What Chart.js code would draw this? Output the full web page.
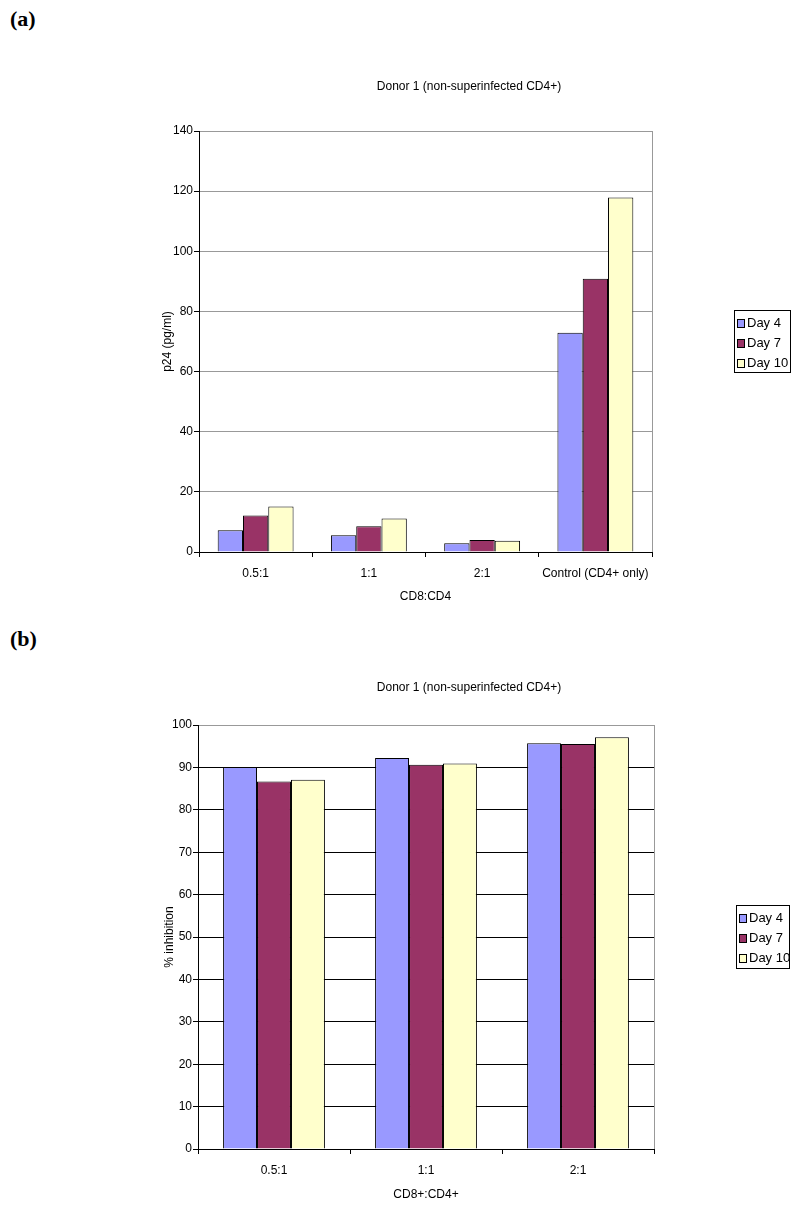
<!DOCTYPE html>
<html>
<head>
<meta charset="utf-8">
<script src="https://cdn.jsdelivr.net/npm/chart.js@4.4.0/dist/chart.umd.min.js"></script>
<style>
  body { margin: 0; background: #fff; width: 800px; height: 1207px; position: relative; overflow: hidden; }
  .panel { position: absolute; left: 10px; font: bold 22px "Liberation Serif", "Times New Roman", serif; }
  canvas { position: absolute; left: 0; }
</style>
</head>
<body>
<div class="panel" style="top:6px">(a)</div>
<div class="panel" style="top:626px">(b)</div>
<canvas id="chartA" width="800" height="610" style="top:0"></canvas>
<canvas id="chartB" width="800" height="597" style="top:610px"></canvas>
<script>
// series names and colours
var seriesNames = ['Day 4', 'Day 7', 'Day 10'];
var seriesColors = ['#9999ff', '#993366', '#ffffcc'];

// panel (a): p24 levels
var categoriesA = ['0.5:1', '1:1', '2:1', 'Control (CD4+ only)'];
var day4A = [7.2, 5.6, 2.9, 72.9];
var day7A = [12.1, 8.6, 4.0, 90.9];
var day10A = [15.1, 11.1, 3.7, 117.9];

// panel (b): % inhibition
var categoriesB = ['0.5:1', '1:1', '2:1'];
var day4B = [90.1, 92.2, 95.7];
var day7B = [86.7, 90.6, 95.5];
var day10B = [87.1, 90.9, 97.1];

var chartTitle = 'Donor 1 (non-superinfected CD4+)';
var fontFam = "'Liberation Sans Narrow', 'Arial Narrow', 'Liberation Sans', Arial, sans-serif";
var fs = 12;

// title, right border and boxed legend drawn by hand
var extras = {
  id: 'extras',
  beforeDatasetsDraw: function (chart) {
    var c = chart.ctx, a = chart.chartArea;
    c.save();
    c.strokeStyle = '#999';
    c.lineWidth = 1;
    c.beginPath();
    c.moveTo(Math.round(a.right) + 0.5, a.top);
    c.lineTo(Math.round(a.right) + 0.5, a.bottom);
    c.stroke();
    c.restore();
  },
  afterDraw: function (chart, args, opts) {
    var c = chart.ctx;
    c.save();
    c.fillStyle = '#000';
    c.font = fs + 'px ' + fontFam;
    c.textAlign = 'center';
    c.textBaseline = 'middle';
    c.fillText(opts.title, opts.titleX, opts.titleY);

    var L = opts.legend;
    c.font = '13px ' + fontFam;
    c.fillStyle = '#fff';
    c.fillRect(L.x, L.y, L.w, L.h);
    c.strokeStyle = '#000';
    c.strokeRect(L.x + 0.5, L.y + 0.5, L.w, L.h);
    c.textAlign = 'left';
    chart.data.datasets.forEach(function (ds, i) {
      var yy = L.y + 13 + i * 20;
      c.fillStyle = ds.backgroundColor;
      c.fillRect(L.x + 3, yy - 4, 7, 8);
      c.strokeRect(L.x + 3.5, yy - 3.5, 7, 8);
      c.fillStyle = '#000';
      c.fillText(ds.label, L.x + 13, yy);
    });
    c.restore();
  }
};

function grafico(id, categories, d4, d7, d10, o) {
  var vals = [d4, d7, d10];
  return new Chart(document.getElementById(id), {
    type: 'bar',
    data: {
      labels: categories,
      datasets: vals.map(function (v, i) {
        return {
          label: seriesNames[i],
          data: v,
          backgroundColor: seriesColors[i],
          borderColor: '#000',
          borderWidth: 1,
          categoryPercentage: 0.67,
          barPercentage: 1
        };
      })
    },
    options: {
      responsive: false,
      animation: false,
      layout: { padding: { top: o.top, right: o.right, left: 0, bottom: 0 } },
      plugins: {
        legend: { display: false },
        tooltip: { enabled: false },
        extras: { title: chartTitle, titleX: 469, titleY: o.titleY, legend: o.legend }
      },
      scales: {
        x: {
          afterFit: function (s) { s.height = 58; },
          grid: { drawOnChartArea: false, tickLength: 5, color: '#000' },
          border: { color: '#000' },
          ticks: { color: '#000', font: { family: fontFam, size: fs }, padding: 9, maxRotation: 0, autoSkip: false },
          title: { display: true, text: o.xTitle, color: '#000', font: { family: fontFam, size: fs }, padding: { top: 0, bottom: o.xTitlePad } }
        },
        y: {
          min: 0,
          max: o.max,
          afterFit: function (s) { s.width = o.left; },
          grid: {
            color: o.gridColor,
            tickColor: '#000',
            tickLength: 5
          },
          border: { color: '#000' },
          ticks: { stepSize: o.step, color: '#000', font: { family: fontFam, size: fs }, padding: 1 },
          title: { display: true, text: o.yTitle, color: '#000', font: { family: fontFam, size: fs }, padding: { top: o.yTitlePad, bottom: 0 } }
        }
      }
    },
    plugins: [extras]
  });
}

grafico('chartA', categoriesA, day4A, day7A, day10A, {
  top: 131, right: 148, left: 199, max: 140, step: 20,
  titleY: 87, gridColor: '#999',
  xTitle: 'CD8:CD4', xTitlePad: 6,
  yTitle: 'p24 (pg/ml)', yTitlePad: 160,
  legend: { x: 734, y: 310, w: 56, h: 62 }
});

grafico('chartB', categoriesB, day4B, day7B, day10B, {
  top: 115, right: 146, left: 198, max: 100, step: 10,
  titleY: 78,
  gridColor: function (ctx) { return ctx.tick && ctx.tick.value === 100 ? '#999' : '#000'; },
  xTitle: 'CD8+:CD4+', xTitlePad: 5,
  yTitle: '% inhibition', yTitlePad: 162,
  legend: { x: 736, y: 295, w: 53, h: 63 }
});
</script>
</body>
</html>
